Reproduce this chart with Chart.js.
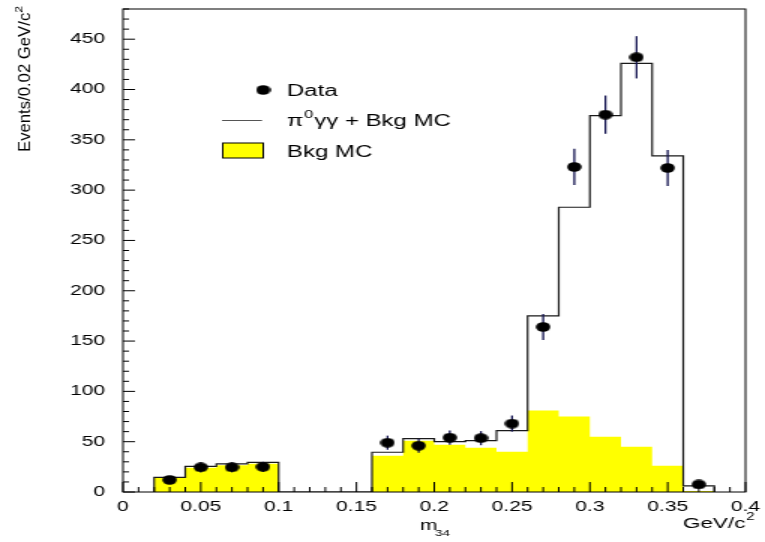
<!DOCTYPE html>
<html>
<head>
<meta charset="utf-8">
<title>m34</title>
<script src="https://cdn.jsdelivr.net/npm/chart.js@4.4.1/dist/chart.umd.min.js"></script>
<style>
  html, body { margin: 0; padding: 0; background: #fff; }
</style>
</head>
<body>
<!-- the canvas is drawn narrow and shown 1.5x wider -->
<canvas id="histo" width="510" height="542" style="display:block;width:765px;height:542px"></canvas>
<script>
// histogram bins, 0.02 GeV/c^2 wide (lower edges)
const binLow = [0.02, 0.04, 0.06, 0.08, 0.16, 0.18, 0.20, 0.22, 0.24, 0.26, 0.28, 0.30, 0.32, 0.34, 0.36];
const binWidth = 0.02;
const bkgMC = [14, 24, 26.5, 28, 36, 51, 47, 44, 40, 81, 75, 55, 45, 26, 1];
const sigBkgMC = [14.5, 25.5, 28, 29.5, 39.5, 53, 50, 51, 61, 175, 283, 374, 426, 334, 6];

// measured points
const dataX = [0.03, 0.05, 0.07, 0.09, 0.17, 0.19, 0.21, 0.23, 0.25, 0.27, 0.29, 0.31, 0.33, 0.35, 0.37];
const dataY = [12, 24.5, 24.5, 25, 49, 46, 54, 53.5, 68, 164, 323, 375, 432, 322, 7.5];
const dataErr = [3.5, 5, 5, 5, 7, 7, 7, 7, 8, 13, 18, 19, 21, 18, 3];

// axis labels
const yTickLabels = [0, 50, 100, 150, 200, 250, 300, 350, 400, 450];
const xTickLabels = ['0', '0.05', '0.1', '0.15', '0.2', '0.25', '0.3', '0.35', '0.4'];

const FONT = '"Liberation Sans", Arial, sans-serif';

// outline of a step histogram, dropping to zero where bins are not contiguous
function stepPoints(values) {
    const pts = [];
    binLow.forEach((lo, i) => {
        const hi = lo + binWidth;
        if (i === 0 || Math.abs(binLow[i - 1] + binWidth - lo) > 1e-9) pts.push({x: lo, y: 0});
        pts.push({x: lo, y: values[i]}, {x: hi, y: values[i]});
        if (i === binLow.length - 1 || Math.abs(binLow[i + 1] - hi) > 1e-9) pts.push({x: hi, y: 0});
    });
    return pts;
}

// black marker for the data points
function markerCanvas() {
    const c = document.createElement('canvas');
    c.width = 10; c.height = 10;
    const g = c.getContext('2d');
    g.fillStyle = '#000';
    g.beginPath();
    g.arc(5, 5, 4.8, 0, Math.PI * 2);
    g.fill();
    return c;
}
const marker = markerCanvas();

// error bars under the data markers
const errorBars = {
    id: 'errorBars',
    beforeDatasetDraw(chart, args) {
        if (args.index !== 0) return;
        const {ctx, scales: {x, y}} = chart;
        ctx.save();
        ctx.strokeStyle = '#141450';
        ctx.lineWidth = 1.3;
        dataX.forEach((v, i) => {
            const px = x.getPixelForValue(v);
            ctx.beginPath();
            ctx.moveTo(px, y.getPixelForValue(dataY[i] - dataErr[i]));
            ctx.lineTo(px, y.getPixelForValue(dataY[i] + dataErr[i]));
            ctx.stroke();
        });
        ctx.restore();
    }
};

// frame, inward ticks, axis titles and legend
const decorations = {
    id: 'decorations',
    afterDraw(chart) {
        const {ctx, chartArea: a, scales: {x, y}} = chart;
        ctx.save();
        ctx.strokeStyle = '#000';
        ctx.lineWidth = 1;
        ctx.strokeRect(a.left, a.top, a.right - a.left, a.bottom - a.top);

        ctx.beginPath();
        y.ticks.forEach(t => {
            const py = y.getPixelForValue(t.value);
            const len = yTickLabels.includes(t.value) ? 8 : 4;
            ctx.moveTo(a.left, py);
            ctx.lineTo(a.left + len, py);
        });
        x.ticks.forEach(t => {
            const px = x.getPixelForValue(t.value);
            const len = Math.round(t.value * 100) % 5 === 0 ? 10 : 5;
            ctx.moveTo(px, a.bottom);
            ctx.lineTo(px, a.bottom - len);
        });
        ctx.stroke();

        ctx.fillStyle = '#000';
        ctx.textBaseline = 'alphabetic';

        // x title
        ctx.font = '14px ' + FONT;
        ctx.fillText('m', 280, 530);
        ctx.font = '9px ' + FONT;
        ctx.fillText('34', 290, 536);
        ctx.font = '15px ' + FONT;
        ctx.textAlign = 'right';
        ctx.fillText('GeV/c', 497, 528);
        ctx.textAlign = 'left';
        ctx.font = '10px ' + FONT;
        ctx.fillText('2', 497.5, 520);

        // y title, rotated
        ctx.save();
        ctx.translate(20, 152);
        ctx.rotate(-Math.PI / 2);
        ctx.font = '11px ' + FONT;
        const main = 'Events/0.02 GeV/c';
        const w = ctx.measureText(main).width;
        ctx.font = '8px ' + FONT;
        const w2 = ctx.measureText('2').width;
        ctx.scale(146 / (w + w2), 1);
        ctx.font = '11px ' + FONT;
        ctx.fillText(main, 0, 0);
        ctx.font = '8px ' + FONT;
        ctx.fillText('2', w, -5);
        ctx.restore();

        // legend
        ctx.drawImage(marker, 170.5, 85);
        ctx.font = '16px ' + FONT;
        ctx.fillText('Data', 191.3, 96);

        ctx.strokeStyle = '#555';
        ctx.beginPath();
        ctx.moveTo(148, 120.5);
        ctx.lineTo(174.7, 120.5);
        ctx.stroke();
        let tx = 191.3;
        ctx.fillText('\u03c0', tx, 126);
        tx += ctx.measureText('\u03c0').width + 0.5;
        ctx.font = '11px ' + FONT;
        ctx.fillText('0', tx, 118);
        tx += ctx.measureText('0').width + 0.5;
        ctx.font = '16px ' + FONT;
        ctx.fillText('\u03b3\u03b3 + Bkg MC', tx, 126);

        ctx.fillStyle = '#ffff00';
        ctx.fillRect(148.5, 143, 27, 15);
        ctx.strokeStyle = '#000';
        ctx.strokeRect(148.5, 143, 27, 15);
        ctx.fillStyle = '#000';
        ctx.fillText('Bkg MC', 191.3, 156.5);
        ctx.restore();
    }
};

const ctx = document.getElementById('histo').getContext('2d');
Chart.defaults.font.family = FONT;
Chart.defaults.color = '#000';

new Chart(ctx, {
    type: 'scatter',
    data: {
        datasets: [
            {
                label: 'Data',
                data: dataX.map((v, i) => ({x: v, y: dataY[i]})),
                pointStyle: marker,
                pointRadius: 5,
                clip: false,
                order: 0
            },
            {
                type: 'line',
                label: '\u03c0\u2070\u03b3\u03b3 + Bkg MC',
                data: stepPoints(sigBkgMC),
                borderColor: '#1a1a1a',
                borderWidth: 1.2,
                pointRadius: 0,
                tension: 0,
                fill: false,
                order: 1
            },
            {
                type: 'line',
                label: 'Bkg MC',
                data: stepPoints(bkgMC),
                borderWidth: 0,
                borderColor: 'rgba(0,0,0,0)',
                backgroundColor: '#ffff00',
                pointRadius: 0,
                tension: 0,
                fill: 'origin',
                order: 2
            }
        ]
    },
    options: {
        responsive: false,
        devicePixelRatio: 1,
        animation: false,
        layout: {
            padding: {top: 9, right: 13, left: 0, bottom: 0}
        },
        plugins: {
            legend: {display: false},
            tooltip: {enabled: false}
        },
        scales: {
            x: {
                type: 'linear',
                min: 0,
                max: 0.4,
                grid: {display: false, drawTicks: false},
                border: {display: false},
                ticks: {
                    stepSize: 0.01,
                    autoSkip: false,
                    maxRotation: 0,
                    padding: 7,
                    font: {size: 14},
                    callback: function(v) {
                        const s = String(Math.round(v * 100) / 100);
                        return xTickLabels.includes(s) ? s : '';
                    }
                },
                afterFit: function(scale) {
                    scale.height = 50;
                    scale.paddingLeft = 0;
                    scale.paddingRight = 0;
                }
            },
            y: {
                min: 0,
                max: 480,
                grid: {display: false, drawTicks: false},
                border: {display: false},
                ticks: {
                    stepSize: 10,
                    autoSkip: false,
                    padding: 12,
                    font: {size: 14},
                    callback: function(v) {
                        return yTickLabels.includes(v) ? String(v) : '';
                    }
                },
                afterFit: function(scale) {
                    scale.width = 82;
                    scale.paddingTop = 0;
                    scale.paddingBottom = 0;
                }
            }
        }
    },
    plugins: [errorBars, decorations]
});
</script>
</body>
</html>
